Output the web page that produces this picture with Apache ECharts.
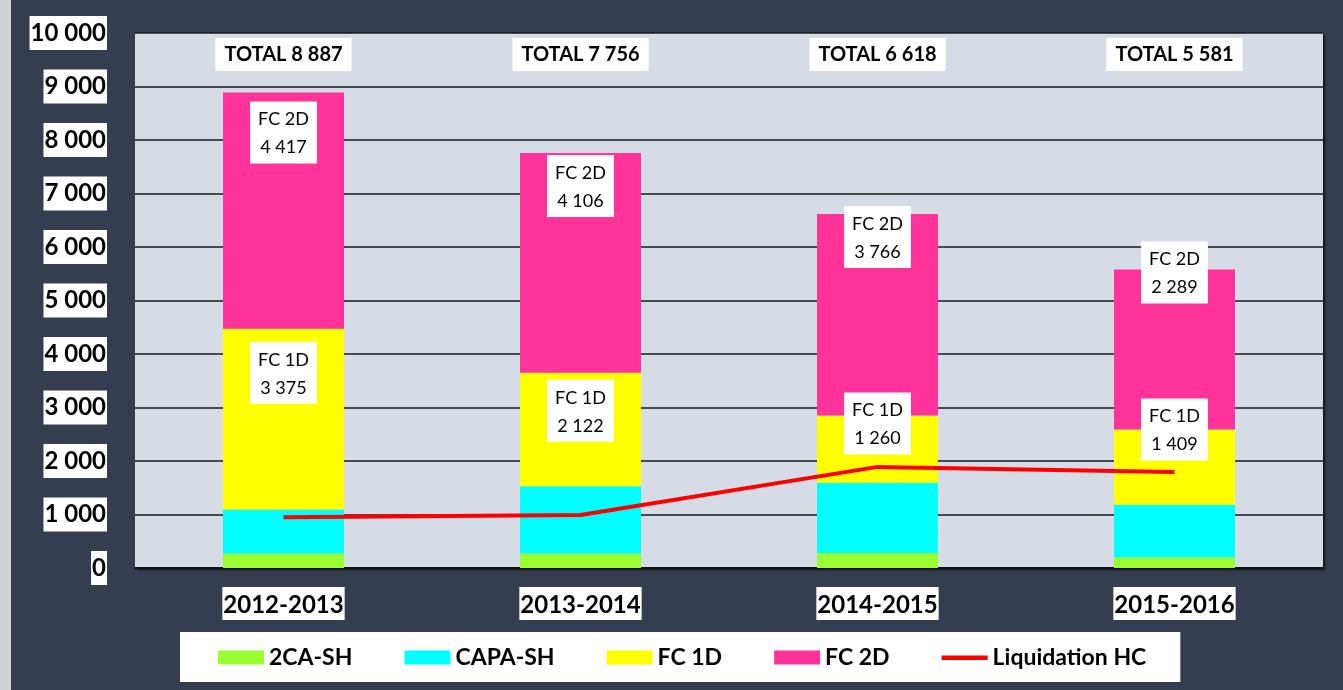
<!DOCTYPE html>
<html>
<head>
<meta charset="utf-8">
<script src="https://cdn.jsdelivr.net/npm/echarts@6/dist/echarts.min.js"></script>
<style>
  html, body { margin: 0; padding: 0; background: #cfd1d4; }
  #chart { position: absolute; left: 11px; top: 0; width: 1332px; height: 690px; background: #343e50; }
</style>
</head>
<body>
<div id="chart"></div>
<script>
// années
const categories = ['2012-2013', '2013-2014', '2014-2015', '2015-2016'];

// effectifs par dispositif
const ca2Sh = [270, 270, 280, 200];
const capaSh = [825, 1258, 1312, 980];
const fc1d = [3375, 2122, 1260, 1409];
const fc2d = [4417, 4106, 3766, 2992];
const liquidationHc = [950, 990, 1890, 1795];

// textes affichés (le graphique d'origine affiche 2 289 pour FC 2D 2015-2016)
const totals = [8887, 7756, 6618, 5581];
const fc2dLabels = [4417, 4106, 3766, 2289];

// décalage vertical des étiquettes, placées à la main dans l'original
const fc2dLabelShift = [4, -3, -13, -33];
const fc1dLabelShift = [8, 2, -28, -36];

const fmt = (v) => String(v).replace(/\B(?=(\d{3})+(?!\d))/g, ' ');
const font = 'Lato, "Open Sans", sans-serif';

const boxLabel = {
  show: true,
  position: 'insideTop',
  backgroundColor: '#fff',
  color: '#000',
  fontFamily: font,
  fontSize: 18,
  lineHeight: 28,
  padding: [4, 8, 2, 8],
};

const chart = echarts.init(document.getElementById('chart'));

const option = {
  animation: false,
  backgroundColor: '#343e50',
  grid: {
    left: 124,
    right: 20,
    top: 33,
    bottom: 122,
    show: true,
    backgroundColor: '#d6dce5',
    borderWidth: 0,
    shadowColor: 'rgba(0,0,0,0.7)',
    shadowBlur: 2,
    shadowOffsetX: 2,
    shadowOffsetY: 2,
  },
  legend: {
    left: 169,
    top: 632,
    backgroundColor: '#fff',
    padding: [14, 34, 13, 38],
    itemGap: 52,
    itemWidth: 46,
    itemHeight: 14,
    textStyle: { fontFamily: font, fontSize: 23, fontWeight: 'bold', color: '#000' },
    data: [
      { name: '2CA-SH', icon: 'rect' },
      { name: 'CAPA-SH', icon: 'rect' },
      { name: 'FC 1D', icon: 'rect' },
      { name: 'FC 2D', icon: 'rect' },
      { name: 'Liquidation HC', icon: 'path://M0,0 M46,14 M0,5 L46,5 L46,9.5 L0,9.5 Z' },
    ],
  },
  xAxis: [
    {
      type: 'category',
      data: categories,
      axisLine: { lineStyle: { color: '#111', width: 2 } },
      axisTick: { show: false },
      axisLabel: {
        margin: 19,
        fontFamily: font,
        fontSize: 24,
        fontWeight: 'bold',
        color: '#000',
        backgroundColor: '#fff',
        padding: [6, 1, 3, 1],
      },
    },
    {
      type: 'category',
      position: 'top',
      data: categories,
      axisLine: { show: false },
      axisTick: { show: false },
      axisLabel: {
        inside: true,
        margin: 5,
        fontFamily: font,
        fontSize: 20,
        fontWeight: 'bold',
        color: '#000',
        backgroundColor: '#fff',
        padding: [7, 9, 6, 9],
        formatter: (v, i) => 'TOTAL ' + fmt(totals[i]),
      },
    },
  ],
  yAxis: {
    type: 'value',
    min: 0,
    max: 10000,
    interval: 1000,
    axisLine: { show: false },
    axisTick: { show: false },
    splitLine: { lineStyle: { color: '#1a1a1a', width: 1.5 } },
    axisLabel: {
      margin: 28,
      fontFamily: font,
      fontSize: 24,
      fontWeight: 'bold',
      color: '#000',
      backgroundColor: '#fff',
      padding: [6, 1, 4, 1],
      formatter: (v) => fmt(v),
    },
  },
  series: [
    {
      name: '2CA-SH',
      type: 'bar',
      stack: 'total',
      barWidth: 121,
      itemStyle: { color: '#99ff33' },
      data: ca2Sh,
    },
    {
      name: 'CAPA-SH',
      type: 'bar',
      stack: 'total',
      itemStyle: { color: '#00ffff' },
      data: capaSh,
    },
    {
      name: 'FC 1D',
      type: 'bar',
      stack: 'total',
      itemStyle: { color: '#ffff00' },
      data: fc1d.map((v, i) => ({
        value: v,
        label: Object.assign({}, boxLabel, {
          offset: [0, fc1dLabelShift[i]],
          formatter: 'FC 1D\n' + fmt(v),
        }),
      })),
    },
    {
      name: 'FC 2D',
      type: 'bar',
      stack: 'total',
      itemStyle: { color: '#ff3399' },
      data: fc2d.map((v, i) => ({
        value: v,
        label: Object.assign({}, boxLabel, {
          offset: [0, fc2dLabelShift[i]],
          formatter: 'FC 2D\n' + fmt(fc2dLabels[i]),
        }),
      })),
    },
    {
      name: 'Liquidation HC',
      type: 'line',
      z: 5,
      symbol: 'none',
      lineStyle: { color: '#ff0000', width: 4 },
      itemStyle: { color: '#ff0000' },
      data: liquidationHc,
    },
  ],
};

chart.setOption(option);
</script>
</body>
</html>
